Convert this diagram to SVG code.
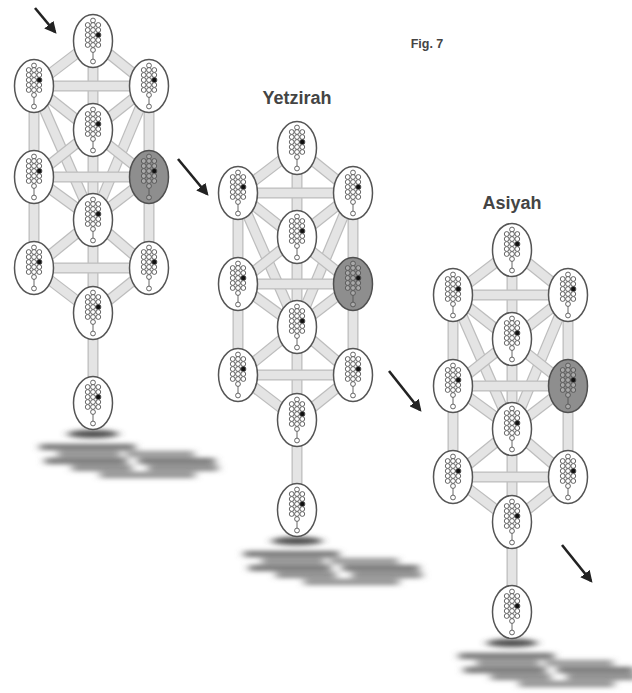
<svg xmlns="http://www.w3.org/2000/svg" xmlns:xlink="http://www.w3.org/1999/xlink" width="632" height="693" viewBox="0 0 632 693">
<style>
.bo{stroke:#bdbdbd;stroke-width:11;stroke-linecap:butt}
.bi{stroke:#e4e4e4;stroke-width:8.5;stroke-linecap:butt}
.mini circle{stroke:#555;stroke-width:0.9}
.ttl{font-family:"Liberation Sans",Arial,sans-serif;font-weight:bold;fill:#444;text-anchor:middle}
.arr{stroke:#222;stroke-width:2.6;fill:none}
.sh{fill:#707070}
</style>
<defs>
<marker id="ah" viewBox="0 0 10 10" refX="8" refY="5" markerWidth="4.6" markerHeight="4.6" orient="auto" markerUnits="strokeWidth">
<path d="M0,0 L10,5 L0,10 z" fill="#222"/>
</marker>
<filter id="blur" x="-20%" y="-100%" width="140%" height="300%"><feGaussianBlur stdDeviation="4.5 2.6"/></filter>
<g id="mini" class="mini">
<line x1="0" y1="-21" x2="0" y2="22" stroke="#555" stroke-width="0.9"/>
<circle cx="0" cy="-20.5" r="2.4"/>
<circle cx="-5.3" cy="-16" r="2.4"/><circle cx="0" cy="-16" r="2.4"/><circle cx="5.3" cy="-16" r="2.4"/>
<circle cx="-5.3" cy="-11" r="2.4"/><circle cx="0" cy="-11" r="2.4"/><circle cx="5.3" cy="-11" r="2.4"/>
<circle cx="-5.3" cy="-6" r="2.4"/><circle cx="0" cy="-6" r="2.4"/><circle cx="5.3" cy="-6" r="2.6" fill="#111"/>
<circle cx="-5.3" cy="-1" r="2.4"/><circle cx="0" cy="-1" r="2.4"/><circle cx="5.3" cy="-1" r="2.4"/>
<circle cx="-5.3" cy="4" r="2.4"/><circle cx="0" cy="4" r="2.4"/><circle cx="5.3" cy="4" r="2.4"/>
<circle cx="0" cy="9" r="2.4"/>
<circle cx="0" cy="20.5" r="2.4"/>
</g>
<g id="nodeW"><ellipse rx="19.5" ry="26.5" fill="#fff" stroke="#555" stroke-width="1.5"/><use href="#mini" fill="#fff"/></g>
<g id="nodeG"><ellipse rx="19.5" ry="26.5" fill="#8e8e8e" stroke="#505050" stroke-width="1.5"/><use href="#mini" fill="#a9a9a9"/></g>
<g id="paths">
<line class="bo" x1="34" y1="86" x2="34" y2="177"/><line class="bi" x1="34" y1="86" x2="34" y2="177"/>
<line class="bo" x1="34" y1="177" x2="34" y2="268"/><line class="bi" x1="34" y1="177" x2="34" y2="268"/>
<line class="bo" x1="149" y1="86" x2="149" y2="177"/><line class="bi" x1="149" y1="86" x2="149" y2="177"/>
<line class="bo" x1="149" y1="177" x2="149" y2="268"/><line class="bi" x1="149" y1="177" x2="149" y2="268"/>
<line class="bo" x1="93" y1="41" x2="93" y2="220"/><line class="bi" x1="93" y1="41" x2="93" y2="220"/>
<line class="bo" x1="93" y1="220" x2="93" y2="313"/><line class="bi" x1="93" y1="220" x2="93" y2="313"/>
<line class="bo" x1="93" y1="313" x2="93" y2="403"/><line class="bi" x1="93" y1="313" x2="93" y2="403"/>
<line class="bo" x1="34" y1="86" x2="93" y2="220"/><line class="bi" x1="34" y1="86" x2="93" y2="220"/>
<line class="bo" x1="149" y1="86" x2="93" y2="220"/><line class="bi" x1="149" y1="86" x2="93" y2="220"/>
<line class="bo" x1="34" y1="86" x2="149" y2="177"/><line class="bi" x1="34" y1="86" x2="149" y2="177"/>
<line class="bo" x1="149" y1="86" x2="34" y2="177"/><line class="bi" x1="149" y1="86" x2="34" y2="177"/>
<line class="bo" x1="34" y1="177" x2="93" y2="220"/><line class="bi" x1="34" y1="177" x2="93" y2="220"/>
<line class="bo" x1="149" y1="177" x2="93" y2="220"/><line class="bi" x1="149" y1="177" x2="93" y2="220"/>
<line class="bo" x1="93" y1="220" x2="34" y2="268"/><line class="bi" x1="93" y1="220" x2="34" y2="268"/>
<line class="bo" x1="93" y1="220" x2="149" y2="268"/><line class="bi" x1="93" y1="220" x2="149" y2="268"/>
<line class="bo" x1="34" y1="268" x2="93" y2="313"/><line class="bi" x1="34" y1="268" x2="93" y2="313"/>
<line class="bo" x1="149" y1="268" x2="93" y2="313"/><line class="bi" x1="149" y1="268" x2="93" y2="313"/>
<line class="bo" x1="93" y1="41" x2="34" y2="86"/><line class="bi" x1="93" y1="41" x2="34" y2="86"/>
<line class="bo" x1="93" y1="41" x2="149" y2="86"/><line class="bi" x1="93" y1="41" x2="149" y2="86"/>
<line class="bo" x1="34" y1="86" x2="149" y2="86"/><line class="bi" x1="34" y1="86" x2="149" y2="86"/>
<line class="bo" x1="34" y1="177" x2="149" y2="177"/><line class="bi" x1="34" y1="177" x2="149" y2="177"/>
<line class="bo" x1="34" y1="268" x2="149" y2="268"/><line class="bi" x1="34" y1="268" x2="149" y2="268"/>
</g>
<g id="shadow" filter="url(#blur)">
<ellipse cx="93" cy="434" rx="26" ry="4" fill="#4a4a4a"/>
<rect class="sh" x="40" y="444" width="95" height="6"/>
<rect class="sh" x="58" y="451" width="62" height="6" opacity="0.8"/>
<rect class="sh" x="126" y="451" width="68" height="6" opacity="0.75"/>
<rect class="sh" x="45" y="458" width="82" height="6"/>
<rect class="sh" x="138" y="458" width="77" height="6"/>
<rect class="sh" x="72" y="465" width="60" height="6" opacity="0.85"/>
<rect class="sh" x="148" y="465" width="70" height="6" opacity="0.85"/>
<rect class="sh" x="100" y="472" width="95" height="6" opacity="0.8"/>
</g>
</defs>
<rect width="632" height="693" fill="#fff"/>
<g id="shadows">
<use href="#shadow"/>
<use href="#shadow" transform="translate(204,107)"/>
<use href="#shadow" transform="translate(419,209)"/>
</g>
<g id="connectors">
<use href="#paths"/>
<use href="#paths" transform="translate(204,107)"/>
<use href="#paths" transform="translate(419,209)"/>
</g>
<g id="tree1">
<g id="t1-kether" transform="translate(93,41)"><use href="#nodeW"/></g>
<g id="t1-binah" transform="translate(34,86)"><use href="#nodeW"/></g>
<g id="t1-chokmah" transform="translate(149,86)"><use href="#nodeW"/></g>
<g id="t1-daath" transform="translate(93,130)"><use href="#nodeW"/></g>
<g id="t1-geburah" transform="translate(34,177)"><use href="#nodeW"/></g>
<g id="t1-chesed" transform="translate(149,177)"><use href="#nodeG"/></g>
<g id="t1-tiphareth" transform="translate(93,220)"><use href="#nodeW"/></g>
<g id="t1-hod" transform="translate(34,268)"><use href="#nodeW"/></g>
<g id="t1-netzach" transform="translate(149,268)"><use href="#nodeW"/></g>
<g id="t1-yesod" transform="translate(93,313)"><use href="#nodeW"/></g>
<g id="t1-malkuth" transform="translate(93,403)"><use href="#nodeW"/></g>
</g>
<g id="tree2" transform="translate(204,107)">
<g id="t2-kether" transform="translate(93,41)"><use href="#nodeW"/></g>
<g id="t2-binah" transform="translate(34,86)"><use href="#nodeW"/></g>
<g id="t2-chokmah" transform="translate(149,86)"><use href="#nodeW"/></g>
<g id="t2-daath" transform="translate(93,130)"><use href="#nodeW"/></g>
<g id="t2-geburah" transform="translate(34,177)"><use href="#nodeW"/></g>
<g id="t2-chesed" transform="translate(149,177)"><use href="#nodeG"/></g>
<g id="t2-tiphareth" transform="translate(93,220)"><use href="#nodeW"/></g>
<g id="t2-hod" transform="translate(34,268)"><use href="#nodeW"/></g>
<g id="t2-netzach" transform="translate(149,268)"><use href="#nodeW"/></g>
<g id="t2-yesod" transform="translate(93,313)"><use href="#nodeW"/></g>
<g id="t2-malkuth" transform="translate(93,403)"><use href="#nodeW"/></g>
</g>
<g id="tree3" transform="translate(419,209)">
<g id="t3-kether" transform="translate(93,41)"><use href="#nodeW"/></g>
<g id="t3-binah" transform="translate(34,86)"><use href="#nodeW"/></g>
<g id="t3-chokmah" transform="translate(149,86)"><use href="#nodeW"/></g>
<g id="t3-daath" transform="translate(93,130)"><use href="#nodeW"/></g>
<g id="t3-geburah" transform="translate(34,177)"><use href="#nodeW"/></g>
<g id="t3-chesed" transform="translate(149,177)"><use href="#nodeG"/></g>
<g id="t3-tiphareth" transform="translate(93,220)"><use href="#nodeW"/></g>
<g id="t3-hod" transform="translate(34,268)"><use href="#nodeW"/></g>
<g id="t3-netzach" transform="translate(149,268)"><use href="#nodeW"/></g>
<g id="t3-yesod" transform="translate(93,313)"><use href="#nodeW"/></g>
<g id="t3-malkuth" transform="translate(93,403)"><use href="#nodeW"/></g>
</g>
<g id="labels">
<text class="ttl" x="427" y="48" font-size="12.5">Fig. 7</text>
<text class="ttl" x="297" y="104" font-size="18">Yetzirah</text>
<text class="ttl" x="512" y="209" font-size="18">Asiyah</text>
</g>
<g id="arrows">
<line class="arr" x1="35" y1="8" x2="55" y2="32" marker-end="url(#ah)"/>
<line class="arr" x1="178" y1="159" x2="207" y2="194" marker-end="url(#ah)"/>
<line class="arr" x1="389" y1="371" x2="420" y2="410" marker-end="url(#ah)"/>
<line class="arr" x1="562" y1="545" x2="591" y2="581" marker-end="url(#ah)"/>
</g>
</svg>
